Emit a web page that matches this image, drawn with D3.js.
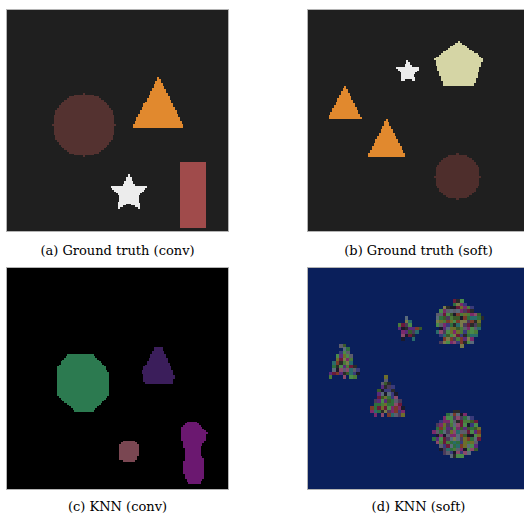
<!DOCTYPE html>
<html>
<head>
<meta charset="utf-8">
<script src="https://cdn.jsdelivr.net/npm/d3@7"></script>
<style>
  html, body { margin: 0; padding: 0; background: #ffffff; }
  svg { display: block; }
  .caption { font-family: "DejaVu Serif", "Liberation Serif", serif; font-size: 13px; fill: #000; }
</style>
</head>
<body>
<svg id="fig" width="524" height="516"></svg>
<script>
// ---- data: label maps described by their shapes (units of a 64-wide frame) ----
const FRAME = 64;

const captions = ["(a) Ground truth (conv)", "(b) Ground truth (soft)", "(c) KNN (conv)", "(d) KNN (soft)"];
const backgrounds = ["#1f1f1f", "#1f1f1f", "#000000", "#0a1f5b"];
// raster resolution of each label map
const resolutions = [128, 128, 128, 64];

// label colours
const labelColors = {
  circleGT: "#543230",
  triangleGT: "#e1892e",
  starGT: "#ececec",
  rectGT: "#a04b4b",
  pentagonGT: "#d5d5a5",
  circleGT2: "#4e2e2c",
  knnGreen: "#2c7a50",
  knnPurple: "#3b1e5b",
  knnPink: "#7a4752",
  knnMagenta: "#6b1870"
};

// (a) ground truth, conv scene
const shapesConvGT = [
  { type: "circle", cx: 22.25, cy: 33.25, r: 9, label: "circleGT" },
  { type: "poly", pts: [[43.8, 19.3], [51.2, 34.0], [36.3, 34.0]], label: "triangleGT" },
  { type: "star", cx: 35.2, cy: 53.0, r: 5.6, inner: 0.5, label: "starGT" },
  { type: "rect", x0: 50.0, y0: 43.8, x1: 57.6, y1: 63.0, label: "rectGT" }
];

// (b) ground truth, soft scene
const shapesSoftGT = [
  { type: "star", cx: 28.9, cy: 17.9, r: 3.6, inner: 0.5, label: "starGT" },
  { type: "ngon", cx: 43.6, cy: 16.3, r: 7.3, n: 5, label: "pentagonGT" },
  { type: "poly", pts: [[10.6, 21.6], [15.4, 31.4], [5.8, 31.4]], label: "triangleGT" },
  { type: "poly", pts: [[22.7, 31.3], [28.2, 42.3], [17.4, 42.3]], label: "triangleGT" },
  { type: "circle", cx: 43.25, cy: 48.25, r: 6.5, label: "circleGT2" }
];

// (c) KNN result, conv scene
const shapesConvKNN = [
  { type: "poly", pts: [[17.4, 25.1], [25.1, 25.1], [29.7, 30.4], [29.7, 36.7], [24.6, 41.4], [19.8, 41.4], [14.3, 36.7], [14.3, 29.0]], label: "knnGreen" },
  { type: "poly", pts: [[42.8, 23.0], [44.9, 23.0], [48.5, 31.4], [47.8, 33.4], [39.8, 33.4], [39.1, 29.9]], label: "knnPurple" },
  { type: "poly", pts: [[33.8, 49.8], [36.7, 49.8], [37.9, 51.2], [37.7, 55.4], [36.6, 56.0], [33.9, 56.0], [32.6, 55.2], [32.5, 51.2]], label: "knnPink" },
  { type: "poly", pts: [[52.2, 44.7], [55.1, 44.7], [57.8, 47.8], [57.5, 49.8], [56.0, 51.7], [56.0, 54.1], [57.0, 55.6], [57.0, 60.9], [55.5, 62.6], [52.6, 62.6], [51.5, 60.4], [50.7, 57.5], [51.5, 55.6], [51.5, 52.7], [50.7, 49.8], [50.7, 45.9]], label: "knnMagenta" }
];

// (d) KNN result, soft scene: regions carry mixed per-pixel labels
const noisePalette = ["#2f6e3e", "#4a8a4a", "#5a2a7a", "#7a2a6a", "#2a6a6a", "#6e6e2c", "#7a3a2a",
                      "#5c5c6c", "#1a1a2a", "#4a3a5a", "#8a4a6a", "#4a7a3a", "#3a3a7a", "#6a1a3a",
                      "#7a7a4a", "#3a5a2a", "#2a2a2a", "#5a6a7a"];

// ---- geometry tests ----
function inPoly(pts, x, y) {
  let inside = false;
  for (let i = 0, j = pts.length - 1; i < pts.length; j = i++) {
    const [xi, yi] = pts[i], [xj, yj] = pts[j];
    if (((yi > y) !== (yj > y)) && (x < (xj - xi) * (y - yi) / (yj - yi) + xi)) inside = !inside;
  }
  return inside;
}
function starPts(s) {
  const pts = [];
  for (let k = 0; k < 10; k++) {
    const a = -Math.PI / 2 + k * Math.PI / 5;
    const rr = k % 2 === 0 ? s.r : s.r * s.inner;
    pts.push([s.cx + rr * Math.cos(a), s.cy + rr * Math.sin(a)]);
  }
  return pts;
}
function ngonPts(s) {
  return d3.range(s.n).map(k => {
    const a = -Math.PI / 2 + k * 2 * Math.PI / s.n;
    return [s.cx + s.r * Math.cos(a), s.cy + s.r * Math.sin(a)];
  });
}
function contains(s, x, y) {
  switch (s.type) {
    case "circle": return (x - s.cx) ** 2 + (y - s.cy) ** 2 <= s.r * s.r + 1e-6;
    case "rect": return x >= s.x0 && x <= s.x1 && y >= s.y0 && y <= s.y1;
    case "poly": return inPoly(s.pts, x, y);
    case "star": return inPoly(s._pts || (s._pts = starPts(s)), x, y);
    case "ngon": return inPoly(s._pts || (s._pts = ngonPts(s)), x, y);
  }
  return false;
}
function hash(i, j, k) {
  let h = (Math.imul(i, 374761393) + Math.imul(j, 668265263) + Math.imul(k, 1442695041)) | 0;
  h = Math.imul(h ^ (h >>> 13), 1274126177);
  h ^= h >>> 16;
  return h >>> 0;
}

// rasterise shapes onto a label grid of n x n cells
function rasterize(shapes, n) {
  const u = FRAME / n, cells = [];
  for (let j = 0; j < n; j++) {
    for (let i = 0; i < n; i++) {
      let fill = null;
      for (const s of shapes) if (contains(s, (i + 0.5) * u, (j + 0.5) * u)) fill = labelColors[s.label];
      if (fill) cells.push({ x: i * u, y: j * u, w: u, fill });
    }
  }
  return cells;
}
// mixed-label regions: interior cells plus a ragged fringe along the outline
function rasterizeNoisy(shapes, n, seed) {
  const u = FRAME / n, cells = [];
  for (let j = 0; j < n; j++) {
    for (let i = 0; i < n; i++) {
      const h = hash(i, j, seed);
      const cx = (i + 0.5) * u, cy = (j + 0.5) * u;
      const jx = ((h & 255) / 255 - 0.5) * 1.6;
      const jy = (((h >>> 8) & 255) / 255 - 0.5) * 1.6;
      const hit = shapes.some(s => contains(s, cx, cy) || contains(s, cx + jx, cy + jy));
      if (hit) cells.push({ x: i * u, y: j * u, w: u, fill: noisePalette[(h >>> 16) % noisePalette.length] });
    }
  }
  return cells;
}

const panelCells = [
  rasterize(shapesConvGT, resolutions[0]),
  rasterize(shapesSoftGT, resolutions[1]),
  rasterize(shapesConvKNN, resolutions[2]),
  rasterizeNoisy(shapesSoftGT, resolutions[3], 7)
];

// ---- layout ----
const svg = d3.select("#fig");
const size = 221;
const origins = [[7, 10], [308, 10], [7, 268], [308, 268]];
const captionY = [255, 255, 511, 511];

origins.forEach(([ox, oy], p) => {
  const x = d3.scaleLinear().domain([0, FRAME]).range([ox, ox + size]);
  const y = d3.scaleLinear().domain([0, FRAME]).range([oy, oy + size]);
  const g = svg.append("g").attr("class", "panel");

  g.append("rect")
    .attr("x", x(0)).attr("y", y(0))
    .attr("width", x(FRAME) - x(0)).attr("height", y(FRAME) - y(0))
    .attr("fill", backgrounds[p]);

  g.append("g").attr("shape-rendering", "crispEdges")
    .selectAll("rect").data(panelCells[p]).join("rect")
    .attr("x", d => x(d.x)).attr("y", d => y(d.y))
    .attr("width", d => x(d.x + d.w) - x(d.x) + 0.3)
    .attr("height", d => y(d.y + d.w) - y(d.y) + 0.3)
    .attr("fill", d => d.fill);

  g.append("rect")
    .attr("x", x(0) - 0.5).attr("y", y(0) - 0.5)
    .attr("width", x(FRAME) - x(0) + 1).attr("height", y(FRAME) - y(0) + 1)
    .attr("fill", "none").attr("stroke", "#b4b4b4").attr("stroke-width", 1);

  svg.append("text").attr("class", "caption")
    .attr("x", ox + size / 2).attr("y", captionY[p])
    .attr("text-anchor", "middle")
    .text(captions[p]);
});
</script>
</body>
</html>
